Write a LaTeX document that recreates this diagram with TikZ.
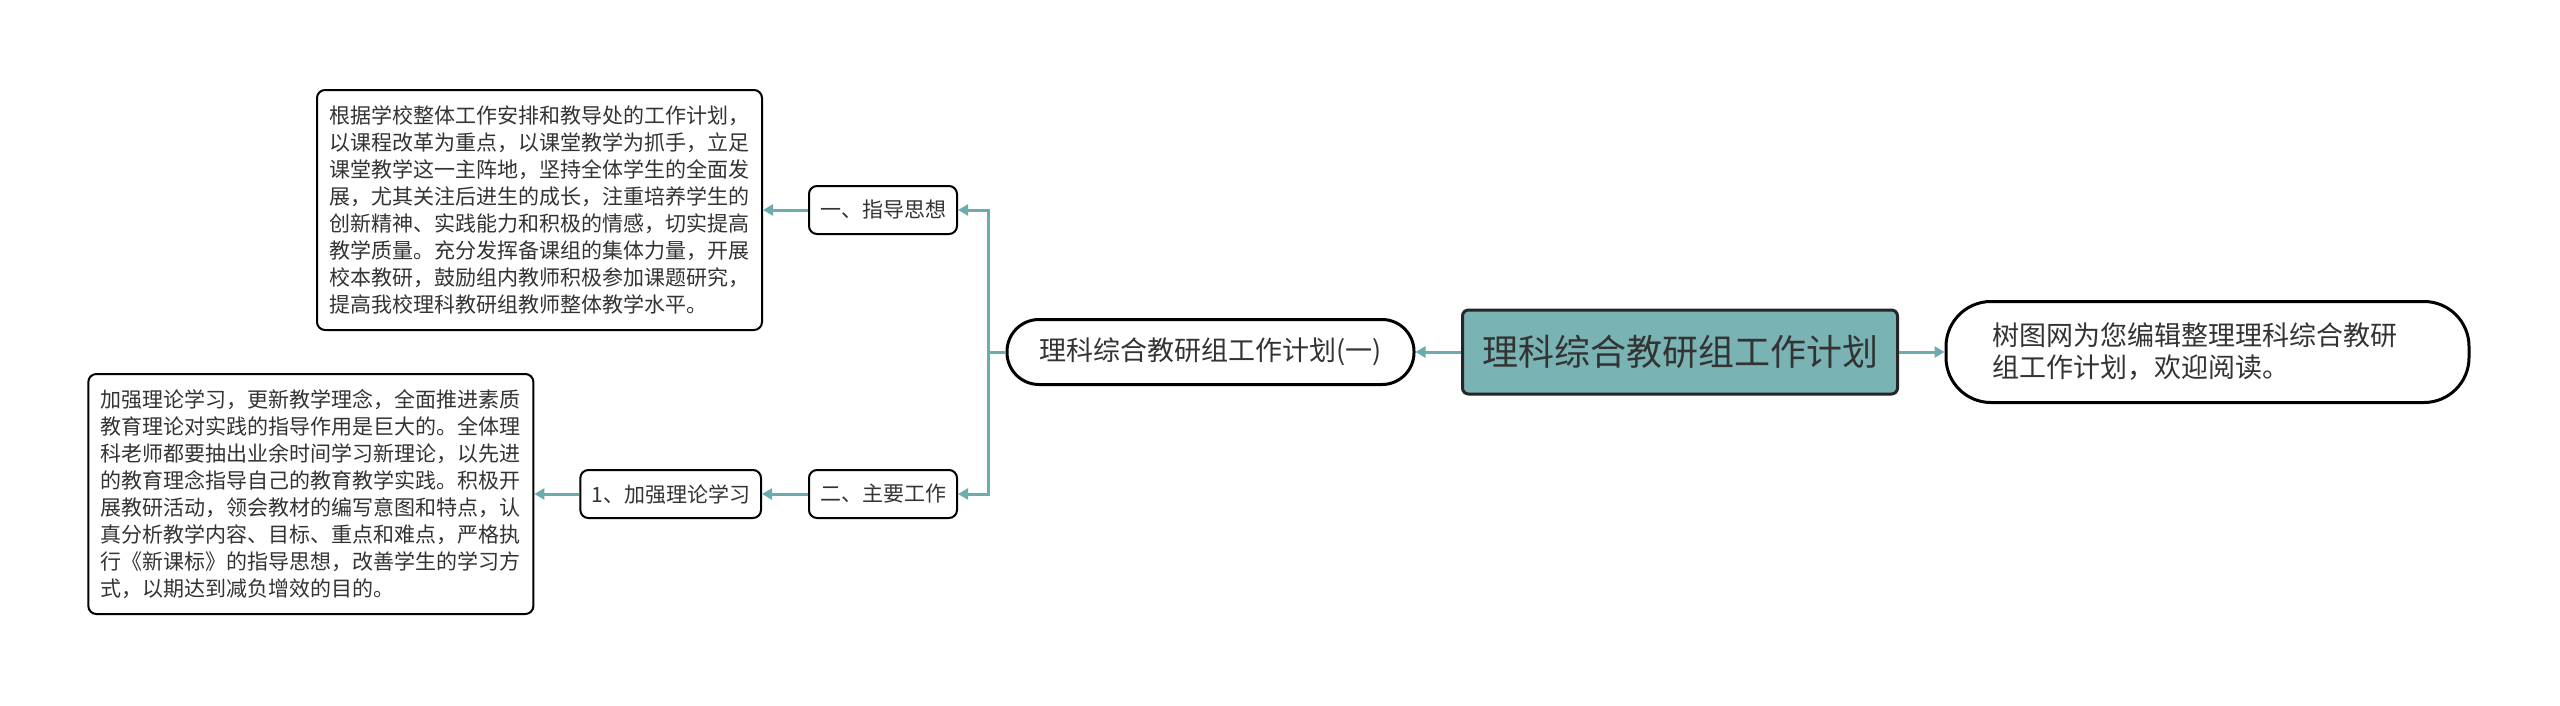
\documentclass[tikz,border=0pt]{standalone}
\usepackage{fontspec}
\setmainfont{Noto Sans CJK SC}
\usepackage{xcolor}
\usepackage{tikz}
\usetikzlibrary{positioning, arrows.meta, calc}

\definecolor{rootteal}{HTML}{7AB3B3}
\definecolor{linkteal}{HTML}{6BADAE}
\definecolor{textgrey}{HTML}{333333}

\begin{document}
\begin{tikzpicture}[
        x=1pt, y=-1pt,
        % Style for the teal centre box
        rootbox/.style={
            draw=black!85,
            line width=3pt,
            fill=rootteal,
            rounded corners=6pt,
            minimum width=435pt,
            minimum height=84pt,
            text=textgrey,
            font=\fontsize{36}{40}\selectfont
        },
        % Rounded pill boxes
        pill/.style={
            draw=black,
            line width=3pt,
            rounded corners=32pt,
            text=textgrey
        },
        % Small heading tags
        tag/.style={
            draw=black,
            line width=2pt,
            rounded corners=8pt,
            minimum height=48pt,
            inner xsep=11pt,
            text=textgrey,
            font=\fontsize{21}{25}\selectfont
        },
        % Long text notes
        note/.style={
            draw=black,
            line width=2pt,
            rounded corners=8pt,
            minimum width=445pt,
            minimum height=240pt,
            inner xsep=12pt,
            align=left,
            text=textgrey,
            font=\fontsize{21}{27}\selectfont
        },
        link/.style={
            draw=linkteal,
            line width=3pt,
            -{Triangle[length=10pt, width=11pt]}
        },
        node distance=45.5pt
    ]
    \useasboundingbox (0,0) rectangle (2560,705);

    % ==========================================
    % CENTRE AND RIGHT-HAND NOTE
    % ==========================================

    \node[rootbox] (root) at (1680,352) {理科综合教研组工作计划};

    \node[pill, right=of root, rounded corners=45pt, minimum width=523pt,
        minimum height=101pt, align=left,
        font=\fontsize{27}{32}\selectfont] (intro)
        {树图网为您编辑整理理科综合教研\hspace*{26pt}\\
         组工作计划，欢迎阅读。};
    \draw[link] (root) -- (intro);

    % ==========================================
    % FIRST LEVEL ON THE LEFT
    % ==========================================

    \node[pill, left=of root, minimum width=407pt, minimum height=65pt,
        font=\fontsize{27}{30}\selectfont] (plan1) {理科综合教研组工作计划(一)};
    \draw[link] (root) -- (plan1);

    % fork where the two branches split
    \coordinate[left=17.5pt of plan1.west] (fork);

    \node[tag, left=47.5pt of plan1.west, yshift=142pt] (guide) {一、指导思想};
    \node[tag, left=47.5pt of plan1.west, yshift=-142pt] (work) {二、主要工作};

    \draw[link] (plan1.west) -- (fork) |- (guide);
    \draw[link] (fork) |- (work);

    % ==========================================
    % NOTES AND SUB ITEM
    % ==========================================

    \node[note, left=45pt of guide] (guidetext) {
        根据学校整体工作安排和教导处的工作计划，\\
        以课程改革为重点，以课堂教学为抓手，立足\\
        课堂教学这一主阵地，坚持全体学生的全面发\\
        展，尤其关注后进生的成长，注重培养学生的\\
        创新精神、实践能力和积极的情感，切实提高\\
        教学质量。充分发挥备课组的集体力量，开展\\
        校本教研，鼓励组内教师积极参加课题研究，\\
        提高我校理科教研组教师整体教学水平。
    };
    \draw[link] (guide) -- (guidetext);

    \node[tag, left=46pt of work] (study) {1、加强理论学习};
    \draw[link] (work) -- (study);

    \node[note, left=45pt of study] (studytext) {
        加强理论学习，更新教学理念，全面推进素质\\
        教育理论对实践的指导作用是巨大的。全体理\\
        科老师都要抽出业余时间学习新理论，以先进\\
        的教育理念指导自己的教育教学实践。积极开\\
        展教研活动，领会教材的编写意图和特点，认\\
        真分析教学内容、目标、重点和难点，严格执\\
        行《新课标》的指导思想，改善学生的学习方\\
        式，以期达到减负增效的目的。
    };
    \draw[link] (study) -- (studytext);

\end{tikzpicture}
\end{document}
